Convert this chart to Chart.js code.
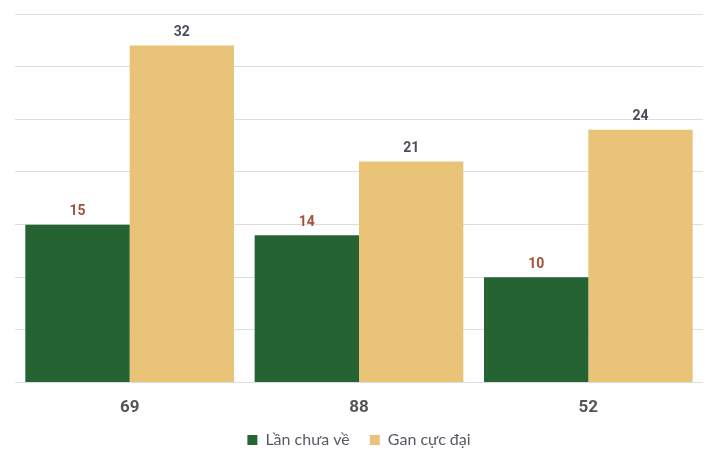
<!DOCTYPE html>
<html>
<head>
<meta charset="utf-8">
<script src="https://cdn.jsdelivr.net/npm/chart.js@4.4.1/dist/chart.umd.min.js"></script>
<style>
    html, body { margin: 0; padding: 0; background: #ffffff; }
    #wrap { width: 717px; height: 462px; }
</style>
</head>
<body>
<div id="wrap"><canvas id="ganChart"></canvas></div>
<script>
const categories = ['69', '88', '52'];
const lanChuaVe = [15, 14, 10];
const ganCucDai = [32, 21, 24];
const seriesNames = ['Lần chưa về', 'Gan cực đại'];

// draws the number above each bar
const valueLabels = {
    id: 'valueLabels',
    afterDatasetsDraw(chart) {
        const ctx = chart.ctx;
        ctx.save();
        ctx.font = 'bold 14px Roboto, "Liberation Sans", sans-serif';
        ctx.textAlign = 'center';
        ctx.textBaseline = 'bottom';
        chart.data.datasets.forEach((ds, i) => {
            const meta = chart.getDatasetMeta(i);
            ctx.fillStyle = ds.labelColor;
            meta.data.forEach((bar, j) => {
                ctx.fillText(ds.data[j], bar.x, bar.y - 6);
            });
        });
        ctx.restore();
    }
};

// wide gap between legend items without a tall legend box
const legendSpacing = {
    id: 'legendSpacing',
    beforeLayout(chart) {
        const legend = chart.legend;
        if (!legend || legend._squeezed) return;
        const fit = legend.fit;
        legend.fit = function () {
            fit.call(this);
            this.height -= 9;
        };
        legend._squeezed = true;
    },
    afterLayout(chart) {
        if (chart.legend) chart.legend.top -= 13;
    }
};

const ctx = document.getElementById('ganChart').getContext('2d');
new Chart(ctx, {
    type: 'bar',
    data: {
        labels: categories,
        datasets: [{
            label: seriesNames[0],
            data: lanChuaVe,
            backgroundColor: '#256432',
            labelColor: '#a5503a'
        }, {
            label: seriesNames[1],
            data: ganCucDai,
            backgroundColor: '#e8c378',
            labelColor: '#4a4f5c'
        }]
    },
    options: {
        responsive: true,
        maintainAspectRatio: false,
        animation: false,
        layout: { padding: { left: 15, right: 14, top: 14, bottom: 0 } },
        datasets: {
            bar: { categoryPercentage: 0.91, barPercentage: 1 }
        },
        plugins: {
            legend: {
                position: 'bottom',
                labels: {
                    boxWidth: 10,
                    boxHeight: 10,
                    padding: 20,
                    color: '#555a63',
                    font: { family: 'Lato, "Open Sans", sans-serif', size: 16 }
                }
            },
            tooltip: { enabled: false }
        },
        scales: {
            x: {
                grid: { display: false },
                border: { display: false },
                ticks: {
                    color: '#555555',
                    padding: 7,
                    font: { family: 'Roboto, "Liberation Sans", sans-serif', size: 17, weight: 'bold' }
                }
            },
            y: {
                min: 0,
                max: 35,
                ticks: { display: false, stepSize: 5 },
                grid: { color: '#dddddd', drawTicks: false },
                border: { display: false }
            }
        }
    },
    plugins: [valueLabels, legendSpacing]
});
</script>
</body>
</html>
